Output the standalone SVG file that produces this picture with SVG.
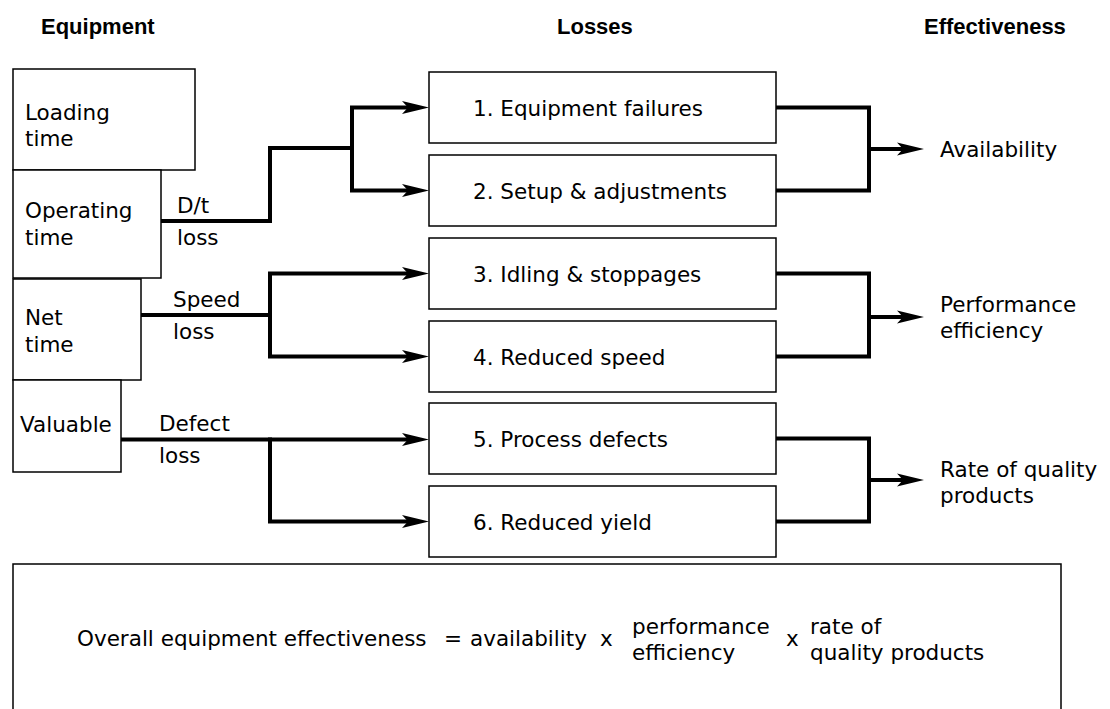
<svg xmlns="http://www.w3.org/2000/svg" xmlns:xlink="http://www.w3.org/1999/xlink" width="1110" height="709" viewBox="0 0 1110 709">
<defs>
<style>
.box{fill:#fff;stroke:#000;stroke-width:1.5}
.t{font-family:"DejaVu Sans","Liberation Sans",sans-serif;font-size:21.5px;fill:#000}
.h{font-family:"Liberation Sans",Arial,sans-serif;font-size:22px;font-weight:bold;fill:#000}
.c{fill:none;stroke:#000;stroke-width:4;stroke-linejoin:miter;stroke-linecap:butt}
.ah{fill:#000;stroke:none}
</style>
<path id="ah" class="ah" d="M0,0 L-27,-6.5 L-21,0 L-27,6.5 Z"/>
</defs>
<rect width="1110" height="709" fill="#fff"/>

<g id="headers">
<text class="h" x="41" y="34">Equipment</text>
<text class="h" x="557" y="34">Losses</text>
<text class="h" x="924" y="34">Effectiveness</text>
</g>

<g id="connectors">
<path class="c" d="M161,221 H270 V148 H352"/>
<path class="c" d="M352,107.5 V190.5"/>
<path class="c" d="M350,107.5 H410"/>
<path class="c" d="M350,190.5 H410"/>
<use xlink:href="#ah" x="429" y="107.5"/>
<use xlink:href="#ah" x="429" y="190.5"/>

<path class="c" d="M141,315 H270"/>
<path class="c" d="M270,273.5 V356.5"/>
<path class="c" d="M268,273.5 H410"/>
<path class="c" d="M268,356.5 H410"/>
<use xlink:href="#ah" x="429" y="273.5"/>
<use xlink:href="#ah" x="429" y="356.5"/>

<path class="c" d="M121,439.5 H410"/>
<path class="c" d="M270,437.5 V521.5 H410"/>
<use xlink:href="#ah" x="429" y="439.5"/>
<use xlink:href="#ah" x="429" y="521.5"/>

<path class="c" d="M776,107.5 H869 V190.5 H776"/>
<path class="c" d="M869,149 H905"/>
<use xlink:href="#ah" x="924" y="149"/>
<path class="c" d="M776,273.5 H869 V356.5 H776"/>
<path class="c" d="M869,317 H905"/>
<use xlink:href="#ah" x="924" y="317"/>
<path class="c" d="M776,438.5 H869 V521.5 H776"/>
<path class="c" d="M869,480 H905"/>
<use xlink:href="#ah" x="924" y="480"/>
</g>

<g id="loading-time">
<rect class="box" x="13" y="69" width="182" height="101"/>
<text class="t" x="25" y="120">Loading</text>
<text class="t" x="25" y="146">time</text>
</g>
<g id="operating-time">
<rect class="box" x="13" y="170" width="148" height="108"/>
<text class="t" x="25" y="218">Operating</text>
<text class="t" x="25" y="245">time</text>
</g>
<g id="net-time">
<rect class="box" x="13" y="279" width="128" height="101"/>
<text class="t" x="25" y="325">Net</text>
<text class="t" x="25" y="352">time</text>
</g>
<g id="valuable">
<rect class="box" x="13" y="380" width="108" height="92"/>
<text class="t" x="20" y="432">Valuable</text>
</g>

<g id="dt-loss">
<text class="t" x="177" y="213">D/t</text>
<text class="t" x="177" y="245">loss</text>
</g>
<g id="speed-loss">
<text class="t" x="173" y="307">Speed</text>
<text class="t" x="173" y="339">loss</text>
</g>
<g id="defect-loss">
<text class="t" x="159" y="431">Defect</text>
<text class="t" x="159" y="463">loss</text>
</g>

<g id="loss1">
<rect class="box" x="429" y="72" width="347" height="71"/>
<text class="t" x="473" y="115.5">1. Equipment failures</text>
</g>
<g id="loss2">
<rect class="box" x="429" y="155" width="347" height="71"/>
<text class="t" x="473" y="198.5">2. Setup &amp; adjustments</text>
</g>
<g id="loss3">
<rect class="box" x="429" y="238" width="347" height="71"/>
<text class="t" x="473" y="281.5">3. Idling &amp; stoppages</text>
</g>
<g id="loss4">
<rect class="box" x="429" y="321" width="347" height="71"/>
<text class="t" x="473" y="364.5">4. Reduced speed</text>
</g>
<g id="loss5">
<rect class="box" x="429" y="403" width="347" height="71"/>
<text class="t" x="473" y="446.5">5. Process defects</text>
</g>
<g id="loss6">
<rect class="box" x="429" y="486" width="347" height="71"/>
<text class="t" x="473" y="529.5">6. Reduced yield</text>
</g>

<g id="availability">
<text class="t" x="940" y="157">Availability</text>
</g>
<g id="performance-efficiency">
<text class="t" x="940" y="312">Performance</text>
<text class="t" x="940" y="338">efficiency</text>
</g>
<g id="rate-of-quality">
<text class="t" x="940" y="477">Rate of quality</text>
<text class="t" x="940" y="503">products</text>
</g>

<g id="oee-formula">
<rect class="box" x="13" y="564" width="1048" height="200"/>
<text class="t" x="77" y="646">Overall equipment effectiveness</text>
<text class="t" x="444" y="646">=</text>
<text class="t" x="470" y="646">availability</text>
<text class="t" x="600" y="646">x</text>
<text class="t" x="632" y="634">performance</text>
<text class="t" x="632" y="660">efficiency</text>
<text class="t" x="786" y="646">x</text>
<text class="t" x="810" y="634">rate of</text>
<text class="t" x="810" y="660">quality products</text>
</g>
</svg>
